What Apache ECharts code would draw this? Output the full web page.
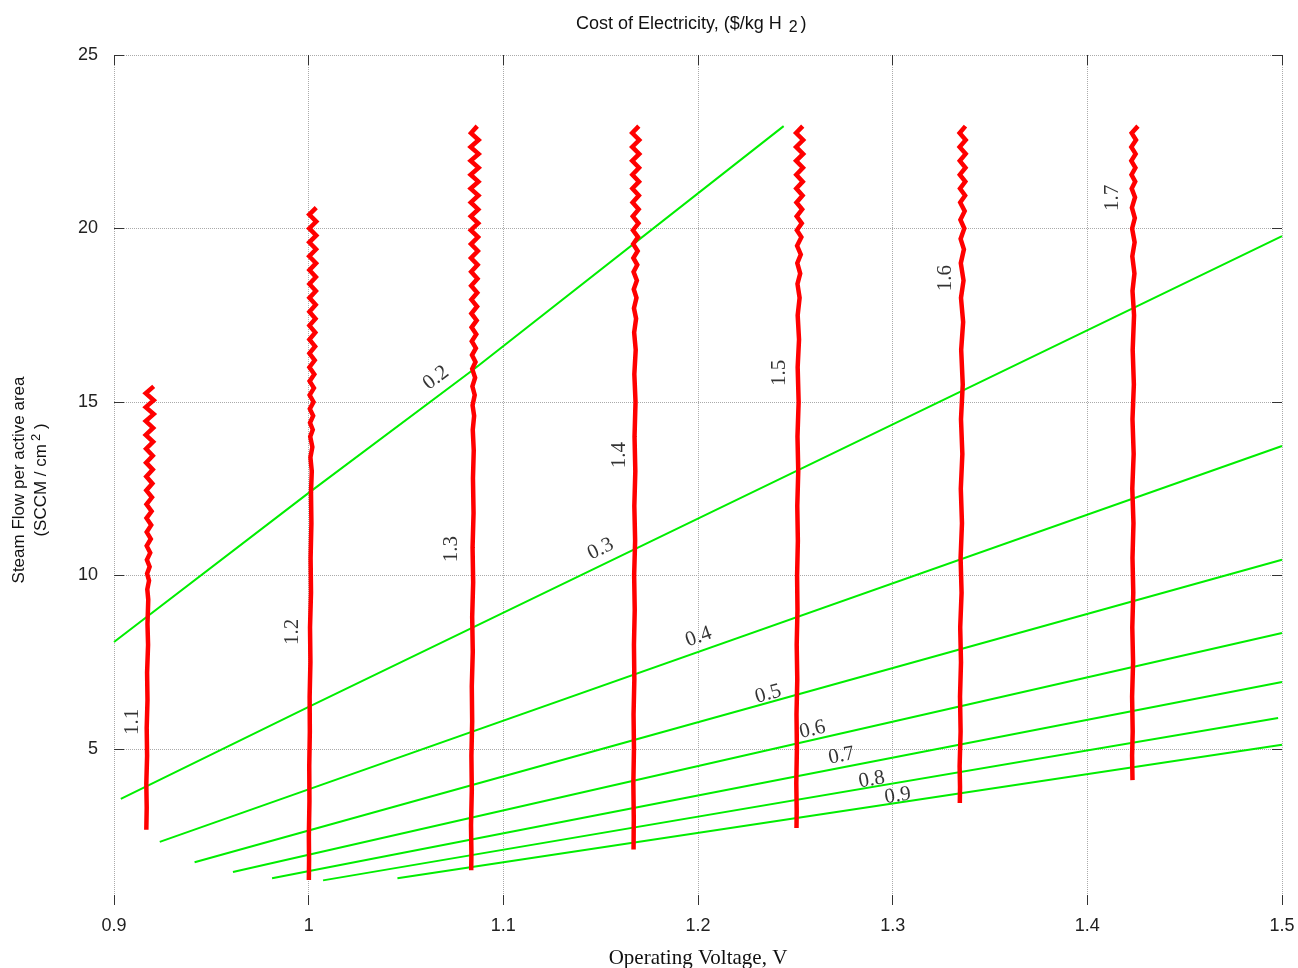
<!DOCTYPE html>
<html lang="en">
<head>
    <meta charset="UTF-8">
    <title>Cost of Electricity</title>
    <style type="text/css">
        html, body {margin:0;padding:0;background:#fff;}
        #myChart {width:1298px;height:968px;}
    </style>
</head>
<body>
<div id="myChart"></div>

<script src="https://cdn.jsdelivr.net/npm/echarts@6/dist/echarts.min.js"></script>
<script type="text/javascript">
    // axis ticks
    var xTicks = [0.9, 1, 1.1, 1.2, 1.3, 1.4, 1.5];
    var yTicks = [5, 10, 15, 20, 25];

    // steam flow lines (green), label = value
    var flowNames = ['0.2', '0.3', '0.4', '0.5', '0.6', '0.7', '0.8', '0.9'];
    var flow02 = [[0.9, 8.08], [1.0, 12.38], [1.085, 15.95], [1.244, 22.95]];
    var flow03 = [[0.9035, 3.56], [1.0, 6.21], [1.5, 19.78]];
    var flow04 = [[0.9235, 2.32], [1.5, 13.73]];
    var flow05 = [[0.9414, 1.73], [1.5, 10.45]];
    var flow06 = [[0.9611, 1.45], [1.5, 8.34]];
    var flow07 = [[0.9812, 1.27], [1.5, 6.93]];
    var flow08 = [[1.0074, 1.21], [1.498, 5.89]];
    var flow09 = [[1.0456, 1.27], [1.5, 5.12]];

    // cost contours (red)
    var costNames = ['1.1', '1.2', '1.3', '1.4', '1.5', '1.6', '1.7'];
    var cost11 = [
        [0.9204, 15.45], [0.9163, 15.25], [0.9204, 15.05], [0.9163, 14.85], [0.9204, 14.65], [0.9163, 14.45],
        [0.9201, 14.25], [0.9163, 14.05], [0.9201, 13.85], [0.9165, 13.65], [0.9199, 13.45], [0.9165, 13.25],
        [0.9199, 13.05], [0.9166, 12.85], [0.9197, 12.65], [0.9166, 12.45], [0.9195, 12.25], [0.9167, 12.05],
        [0.9193, 11.85], [0.9167, 11.65], [0.9191, 11.45], [0.9168, 11.25], [0.9189, 11.05], [0.9168, 10.85],
        [0.9186, 10.65], [0.9169, 10.45], [0.9183, 10.25], [0.9170, 10.05], [0.9180, 9.85], [0.9171, 9.6],
        [0.9176, 9.3], [0.9172, 8.6], [0.9175, 8.0], [0.9170, 7.2], [0.9172, 6.4], [0.9168, 5.6],
        [0.9170, 4.8], [0.9166, 4.0], [0.9168, 3.3], [0.9166, 2.67]
    ];
    var cost12 = [
        [1.0039, 20.6], [1.0003, 20.4], [1.0039, 20.2], [1.0003, 20.0], [1.0039, 19.8], [1.0003, 19.6],
        [1.0038, 19.4], [1.0003, 19.2], [1.0038, 19.0], [1.0004, 18.8], [1.0037, 18.6], [1.0004, 18.4],
        [1.0037, 18.2], [1.0004, 18.0], [1.0036, 17.8], [1.0004, 17.6], [1.0035, 17.4], [1.0004, 17.2],
        [1.0034, 17.0], [1.0004, 16.8], [1.0033, 16.6], [1.0004, 16.4], [1.0031, 16.2], [1.0004, 16.0],
        [1.0029, 15.8], [1.0005, 15.6], [1.0027, 15.4], [1.0005, 15.2], [1.0025, 15.0], [1.0006, 14.8],
        [1.0023, 14.6], [1.0007, 14.4], [1.0021, 14.2], [1.0008, 14.0], [1.0019, 13.7], [1.0009, 13.4],
        [1.0016, 13.0], [1.0012, 12.4], [1.0014, 11.5], [1.0010, 10.5], [1.0012, 9.5], [1.0007, 8.5],
        [1.0009, 7.5], [1.0005, 6.5], [1.0006, 5.5], [1.0003, 4.5], [1.0004, 3.5], [1.0001, 2.5],
        [1.0002, 1.8], [1.0001, 1.22]
    ];
    var cost13 = [
        [1.0866, 22.95], [1.0834, 22.75], [1.0873, 22.55], [1.0832, 22.35], [1.0873, 22.15], [1.0832, 21.95],
        [1.0873, 21.75], [1.0832, 21.55], [1.0872, 21.35], [1.0832, 21.15], [1.0872, 20.95], [1.0833, 20.75],
        [1.0871, 20.55], [1.0833, 20.35], [1.0871, 20.15], [1.0833, 19.95], [1.0870, 19.75], [1.0834, 19.55],
        [1.0869, 19.35], [1.0834, 19.15], [1.0868, 18.95], [1.0835, 18.75], [1.0867, 18.55], [1.0835, 18.35],
        [1.0866, 18.15], [1.0836, 17.95], [1.0865, 17.75], [1.0836, 17.55], [1.0863, 17.35], [1.0837, 17.15],
        [1.0861, 16.95], [1.0838, 16.75], [1.0859, 16.55], [1.0839, 16.35], [1.0857, 16.15], [1.0840, 15.95],
        [1.0855, 15.7], [1.0841, 15.45], [1.0853, 15.2], [1.0842, 14.9], [1.0850, 14.6], [1.0843, 14.2],
        [1.0848, 13.6], [1.0844, 12.8], [1.0847, 11.8], [1.0842, 10.8], [1.0845, 9.8], [1.0840, 8.8],
        [1.0843, 7.8], [1.0838, 6.8], [1.0840, 5.8], [1.0836, 4.8], [1.0838, 3.8], [1.0834, 2.8],
        [1.0836, 2.0], [1.0835, 1.5]
    ];
    var cost14 = [
        [1.1696, 22.95], [1.1662, 22.75], [1.1698, 22.55], [1.1662, 22.35], [1.1698, 22.15], [1.1662, 21.95],
        [1.1697, 21.75], [1.1663, 21.55], [1.1697, 21.35], [1.1663, 21.15], [1.1696, 20.95], [1.1664, 20.75],
        [1.1695, 20.55], [1.1665, 20.35], [1.1694, 20.15], [1.1666, 19.95], [1.1692, 19.75], [1.1667, 19.55],
        [1.1690, 19.35], [1.1668, 19.15], [1.1688, 18.95], [1.1669, 18.75], [1.1686, 18.5], [1.1670, 18.25],
        [1.1684, 18.0], [1.1671, 17.7], [1.1682, 17.4], [1.1672, 17.0], [1.1680, 16.5], [1.1673, 15.8],
        [1.1679, 15.0], [1.1674, 14.0], [1.1678, 13.0], [1.1673, 12.0], [1.1677, 11.0], [1.1672, 10.0],
        [1.1675, 9.0], [1.1671, 8.0], [1.1673, 7.0], [1.1669, 6.0], [1.1671, 5.0], [1.1668, 4.0],
        [1.1670, 3.0], [1.1669, 2.1]
    ];
    var cost15 = [
        [1.2538, 22.95], [1.2504, 22.75], [1.2540, 22.55], [1.2504, 22.35], [1.2540, 22.15], [1.2504, 21.95],
        [1.2539, 21.75], [1.2505, 21.55], [1.2538, 21.35], [1.2505, 21.15], [1.2537, 20.95], [1.2506, 20.75],
        [1.2535, 20.55], [1.2507, 20.35], [1.2533, 20.15], [1.2508, 19.95], [1.2531, 19.75], [1.2509, 19.5],
        [1.2528, 19.25], [1.2510, 19.0], [1.2525, 18.7], [1.2511, 18.4], [1.2522, 18.0], [1.2512, 17.5],
        [1.2519, 16.8], [1.2512, 16.0], [1.2517, 15.0], [1.2511, 14.0], [1.2515, 13.0], [1.2510, 12.0],
        [1.2513, 11.0], [1.2509, 10.0], [1.2511, 9.0], [1.2507, 8.0], [1.2510, 7.0], [1.2506, 6.0],
        [1.2508, 5.0], [1.2505, 4.0], [1.2507, 3.2], [1.2506, 2.72]
    ];
    var cost16 = [
        [1.3374, 22.95], [1.3344, 22.75], [1.3375, 22.55], [1.3344, 22.35], [1.3375, 22.15], [1.3345, 21.95],
        [1.3374, 21.75], [1.3345, 21.55], [1.3373, 21.35], [1.3346, 21.15], [1.3372, 20.95], [1.3347, 20.75],
        [1.3370, 20.5], [1.3348, 20.25], [1.3368, 20.0], [1.3349, 19.7], [1.3366, 19.4], [1.3350, 19.0],
        [1.3364, 18.5], [1.3351, 18.0], [1.3362, 17.3], [1.3352, 16.5], [1.3360, 15.5], [1.3351, 14.5],
        [1.3358, 13.5], [1.3350, 12.5], [1.3356, 11.5], [1.3349, 10.5], [1.3354, 9.5], [1.3347, 8.5],
        [1.3351, 7.5], [1.3346, 6.5], [1.3349, 5.5], [1.3344, 4.5], [1.3346, 3.9], [1.3345, 3.44]
    ];
    var cost17 = [
        [1.4260, 22.95], [1.4228, 22.75], [1.4250, 22.55], [1.4226, 22.35], [1.4248, 22.15], [1.4226, 21.95],
        [1.4247, 21.75], [1.4227, 21.55], [1.4246, 21.35], [1.4228, 21.15], [1.4245, 20.9], [1.4229, 20.6],
        [1.4244, 20.3], [1.4230, 20.0], [1.4243, 19.6], [1.4231, 19.2], [1.4242, 18.7], [1.4232, 18.2],
        [1.4240, 17.5], [1.4233, 16.5], [1.4239, 15.5], [1.4232, 14.5], [1.4238, 13.5], [1.4231, 12.5],
        [1.4237, 11.5], [1.4232, 10.5], [1.4236, 9.5], [1.4231, 8.5], [1.4235, 7.5], [1.4230, 6.5],
        [1.4233, 5.5], [1.4230, 4.8], [1.4232, 4.1]
    ];

    // inline contour labels: text, anchor x, anchor y, angle
    var labelText  = ['0.2', '0.3', '0.4', '0.5', '0.6', '0.7', '0.8', '0.9',
                      '1.1', '1.2', '1.3', '1.4', '1.5', '1.6', '1.7'];
    var labelX     = [1.0654, 1.150, 1.2003, 1.2361, 1.2588, 1.2737, 1.2892, 1.3026,
                      0.9097, 0.9919, 1.0735, 1.1597, 1.2420, 1.3273, 1.4127];
    var labelY     = [15.69, 10.76, 8.23, 6.58, 5.55, 4.80, 4.11, 3.65,
                      5.78, 8.37, 10.76, 13.47, 15.84, 18.57, 20.88];
    var labelAngle = [37, 26, 19.5, 15.6, 12.9, 11, 9.7, 8.6,
                      90, 90, 90, 90, 90, 90, 90];

    var flowLines = [flow02, flow03, flow04, flow05, flow06, flow07, flow08, flow09];
    var costLines = [cost11, cost12, cost13, cost14, cost15, cost16, cost17];

    var series = [];
    flowLines.forEach(function (pts, i) {
        series.push({
            name: 'flow ' + flowNames[i],
            type: 'line',
            data: pts,
            showSymbol: false,
            silent: true,
            lineStyle: {color: '#00ee00', width: 2},
            z: 2
        });
    });
    costLines.forEach(function (pts, i) {
        series.push({
            name: 'cost ' + costNames[i],
            type: 'line',
            data: pts,
            showSymbol: false,
            silent: true,
            lineStyle: {color: '#ff0000', width: 4.5, join: 'miter'},
            z: 3
        });
    });
    series.push({
        name: 'labels',
        type: 'scatter',
        symbolSize: 1,
        itemStyle: {color: 'rgba(0,0,0,0)'},
        silent: true,
        z: 5,
        data: labelText.map(function (t, i) {
            return {name: t, value: [labelX[i], labelY[i]], label: {rotate: labelAngle[i]}};
        }),
        label: {
            show: true,
            position: 'inside',
            formatter: '{b}',
            fontFamily: '"Liberation Serif", "DejaVu Serif", serif',
            fontSize: 21,
            color: '#000'
        }
    });

    var tickFont = {fontFamily: '"Liberation Sans", Arial, sans-serif', fontSize: 18, color: '#222'};
    var gridLine = {show: true, lineStyle: {type: 'dotted', color: '#aaaaaa', width: 1}};

    var myChart = echarts.init(document.getElementById('myChart'));

    option = {
        animation: false,
        backgroundColor: '#fff',
        title: {
            text: 'Cost of Electricity, ($/kg H {sub|2})',
            left: 571,
            top: 7,
            textStyle: {
                fontFamily: '"Liberation Sans", Arial, sans-serif',
                fontSize: 18,
                fontWeight: 'normal',
                color: '#111',
                rich: {
                    sub: {fontSize: 16, padding: [8, 3, 0, 2], fontFamily: '"Liberation Sans", Arial, sans-serif', color: '#111'}
                }
            }
        },
        grid: {left: 114, right: 16, top: 55, bottom: 63, containLabel: false, outerBoundsMode: 'none'},
        xAxis: [{
            type: 'value',
            min: 0.9, max: 1.5, interval: 0.1,
            name: 'Operating Voltage, V',
            nameLocation: 'middle',
            nameGap: 43,
            nameTextStyle: {fontFamily: '"Liberation Serif", "DejaVu Serif", serif', fontSize: 21, color: '#111'},
            axisLine: {show: false},
            axisTick: {inside: true, length: 10, lineStyle: {color: '#333'}},
            axisLabel: Object.assign({margin: 12, customValues: xTicks}, tickFont),
            splitLine: gridLine
        }, {
            type: 'value',
            position: 'top',
            min: 0.9, max: 1.5, interval: 0.1,
            axisLine: {show: false},
            axisTick: {inside: true, length: 10, lineStyle: {color: '#333'}},
            axisLabel: {show: false},
            splitLine: {show: false}
        }],
        yAxis: [{
            type: 'value',
            min: 0.5, max: 25, splitNumber: 5,
            name: 'Steam Flow per active area\n(SCCM / cm{sup|2} )',
            nameLocation: 'middle',
            nameRotate: 90,
            nameGap: 62,
            nameTextStyle: {
                fontFamily: '"Liberation Sans", Arial, sans-serif',
                fontSize: 17,
                lineHeight: 22,
                color: '#111',
                rich: {
                    sup: {fontSize: 13, padding: [0, 0, 9, 3], fontFamily: '"Liberation Sans", Arial, sans-serif', color: '#111'}
                }
            },
            axisLine: {show: false},
            axisTick: {inside: true, length: 10, customValues: yTicks, lineStyle: {color: '#333'}},
            axisLabel: Object.assign({margin: 16, customValues: yTicks}, tickFont),
            splitLine: gridLine
        }, {
            type: 'value',
            position: 'right',
            min: 0.5, max: 25, splitNumber: 5,
            axisLine: {show: false},
            axisTick: {inside: true, length: 10, customValues: yTicks, lineStyle: {color: '#333'}},
            axisLabel: {show: false},
            splitLine: {show: false}
        }],
        series: series
    };

    myChart.setOption(option);
</script>
</body>
</html>
